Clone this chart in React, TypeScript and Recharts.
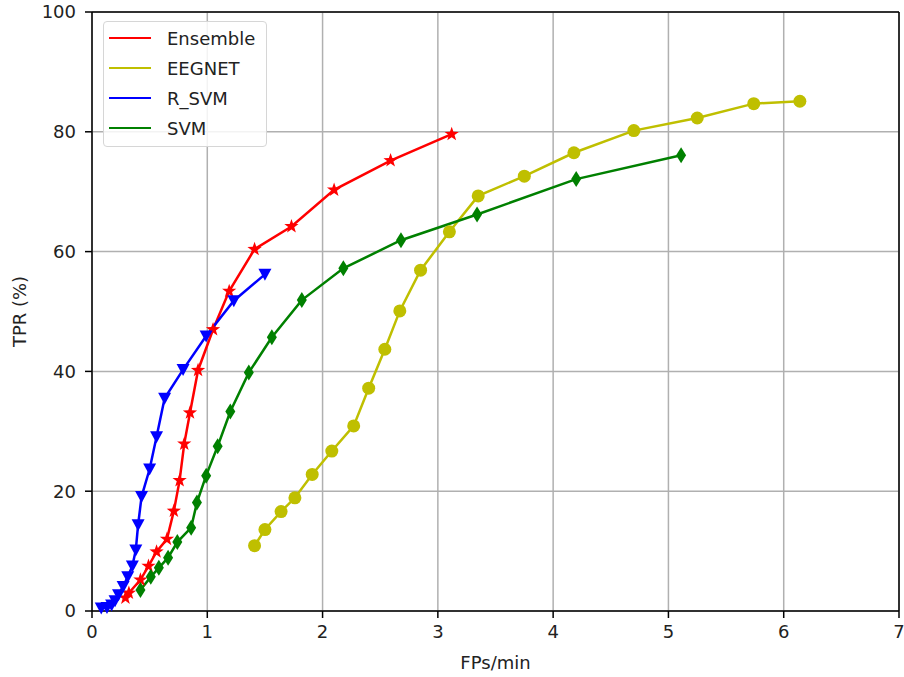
import {
  LineChart,
  Line,
  XAxis,
  YAxis,
  CartesianGrid,
  ReferenceLine,
  Legend,
} from "recharts";

// FPs/min (x) and TPR % (y) for each detector
const ensembleFp = [0.29, 0.32, 0.42, 0.49, 0.56, 0.65, 0.71, 0.76, 0.8, 0.85, 0.92, 1.05, 1.19, 1.41, 1.73, 2.1, 2.59, 3.12];
const ensembleTpr = [2.2, 3.0, 5.2, 7.5, 9.9, 12.0, 16.7, 21.8, 27.9, 33.1, 40.2, 47.0, 53.4, 60.4, 64.2, 70.3, 75.2, 79.6];

const eegnetFp = [1.41, 1.5, 1.64, 1.76, 1.91, 2.08, 2.27, 2.4, 2.54, 2.67, 2.85, 3.1, 3.35, 3.75, 4.18, 4.7, 5.25, 5.74, 6.14];
const eegnetTpr = [10.9, 13.6, 16.6, 18.9, 22.8, 26.7, 30.9, 37.2, 43.7, 50.1, 56.9, 63.3, 69.3, 72.6, 76.5, 80.2, 82.3, 84.7, 85.1];

const rsvmFp = [0.08, 0.13, 0.17, 0.2, 0.23, 0.27, 0.31, 0.35, 0.38, 0.4, 0.43, 0.5, 0.56, 0.63, 0.79, 0.99, 1.23, 1.5];
const rsvmTpr = [0.5, 0.6, 1.0, 1.7, 2.7, 4.1, 5.7, 7.5, 10.2, 14.4, 19.1, 23.7, 29.1, 35.5, 40.3, 45.9, 51.8, 56.2];

const svmFp = [0.42, 0.51, 0.58, 0.66, 0.74, 0.86, 0.91, 0.99, 1.09, 1.2, 1.36, 1.56, 1.82, 2.18, 2.68, 3.34, 4.2, 5.11];
const svmTpr = [3.5, 5.7, 7.2, 8.9, 11.5, 13.9, 18.1, 22.6, 27.5, 33.3, 39.8, 45.7, 51.9, 57.2, 61.9, 66.2, 72.1, 76.1];

const xTicks = [0, 1, 2, 3, 4, 5, 6, 7];
const yTicks = [0, 20, 40, 60, 80, 100];

const FONT = "'DejaVu Sans', sans-serif";
const TEXT = "#222";

const toPoints = (xs: number[], ys: number[]) => xs.map((x, i) => ({ x, y: ys[i] }));

type DotProps = { cx?: number; cy?: number; index?: number };

function starPath(cx: number, cy: number, ro: number, ri: number) {
  let d = "";
  for (let i = 0; i < 10; i++) {
    const r = i % 2 === 0 ? ro : ri;
    const a = -Math.PI / 2 + (i * Math.PI) / 5;
    d += `${i === 0 ? "M" : "L"}${cx + r * Math.cos(a)},${cy + r * Math.sin(a)}`;
  }
  return d + "Z";
}

const StarDot = ({ cx = 0, cy = 0, index }: DotProps) => (
  <path key={index} d={starPath(cx, cy, 7.5, 3)} fill="#ff0000" />
);
const CircleDot = ({ cx = 0, cy = 0, index }: DotProps) => (
  <circle key={index} cx={cx} cy={cy} r={6.5} fill="#bfbf00" />
);
const TriDownDot = ({ cx = 0, cy = 0, index }: DotProps) => (
  <path key={index} d={`M${cx - 6.5},${cy - 5.5}L${cx + 6.5},${cy - 5.5}L${cx},${cy + 6.5}Z`} fill="#0000ff" />
);
const ThinDiamondDot = ({ cx = 0, cy = 0, index }: DotProps) => (
  <path key={index} d={`M${cx},${cy - 8}L${cx + 5},${cy}L${cx},${cy + 8}L${cx - 5},${cy}Z`} fill="#008000" />
);

const series = [
  { name: "Ensemble", color: "#ff0000", data: toPoints(ensembleFp, ensembleTpr), dot: StarDot },
  { name: "EEGNET", color: "#bfbf00", data: toPoints(eegnetFp, eegnetTpr), dot: CircleDot },
  { name: "R_SVM", color: "#0000ff", data: toPoints(rsvmFp, rsvmTpr), dot: TriDownDot },
  { name: "SVM", color: "#008000", data: toPoints(svmFp, svmTpr), dot: ThinDiamondDot },
];

function LegendBox() {
  return (
    <div
      style={{
        width: 164,
        height: 126,
        border: "1px solid #d6d6d6",
        borderRadius: 4,
        background: "rgba(255,255,255,0.85)",
        paddingTop: 1,
        boxSizing: "border-box",
      }}
    >
      {series.map((s) => (
        <div key={s.name} style={{ display: "flex", alignItems: "center", height: 30 }}>
          <div style={{ width: 42, height: 2.5, background: s.color, marginLeft: 5 }} />
          <span style={{ marginLeft: 16, fontFamily: FONT, fontSize: 18, color: TEXT }}>{s.name}</span>
        </div>
      ))}
    </div>
  );
}

export default function App() {
  return (
    <div style={{ position: "absolute", left: 0, top: 0, width: 904, height: 677, background: "#fff" }}>
      <LineChart width={904} height={677} margin={{ top: 12, right: 5, left: 0, bottom: 0 }}>
        <CartesianGrid stroke="#b0b0b0" strokeWidth={1.5} horizontalValues={yTicks} verticalValues={xTicks} />
        <XAxis
          type="number"
          dataKey="x"
          domain={[0, 7]}
          ticks={xTicks}
          allowDuplicatedCategory={false}
          height={66}
          tickSize={7}
          tickMargin={7}
          axisLine={{ stroke: "#000", strokeWidth: 1.5 }}
          tickLine={{ stroke: "#000", strokeWidth: 1.5 }}
          tick={{ fontSize: 18, fill: TEXT, fontFamily: FONT }}
          label={{ value: "FPs/min", position: "insideBottom", offset: 8, fontSize: 18, fill: TEXT, fontFamily: FONT }}
        />
        <YAxis
          type="number"
          dataKey="y"
          domain={[0, 100]}
          ticks={yTicks}
          width={92}
          tickSize={7}
          tickMargin={9}
          axisLine={{ stroke: "#000", strokeWidth: 1.5 }}
          tickLine={{ stroke: "#000", strokeWidth: 1.5 }}
          tick={{ fontSize: 18, fill: TEXT, fontFamily: FONT }}
          label={{ value: "TPR (%)", angle: -90, position: "insideLeft", offset: 20, fontSize: 18, fill: TEXT, fontFamily: FONT, style: { textAnchor: "middle" } }}
        />
        <ReferenceLine x={7} stroke="#000" strokeWidth={1.5} />
        <ReferenceLine y={100} stroke="#000" strokeWidth={1.5} />
        {series.map((s) => (
          <Line
            key={s.name}
            name={s.name}
            data={s.data}
            dataKey="y"
            type="linear"
            stroke={s.color}
            strokeWidth={2.5}
            dot={s.dot}
            activeDot={false}
            isAnimationActive={false}
          />
        ))}
        <Legend
          layout="vertical"
          align="center"
          verticalAlign="middle"
          content={() => <LegendBox />}
          wrapperStyle={{ position: "absolute", left: 103, top: 21, width: "auto", height: "auto" }}
        />
      </LineChart>
    </div>
  );
}
